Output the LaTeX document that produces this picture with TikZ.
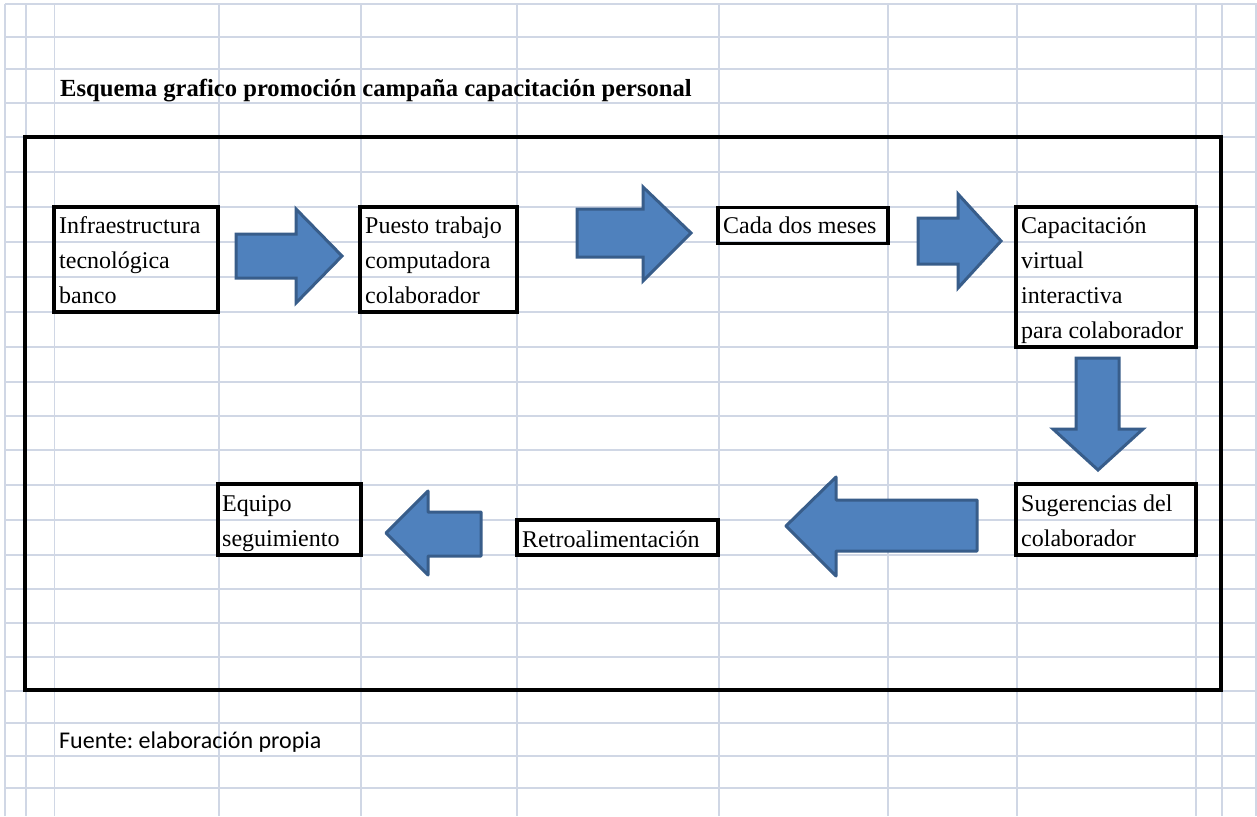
\documentclass[tikz,border=0pt]{standalone}
\usepackage{fontspec}
\setmainfont{Liberation Serif}
\newfontfamily\notefont{Carlito}
\frenchspacing
\begin{document}
\begin{tikzpicture}[x=1pt,y=-1pt,
  gridline/.style={draw=gridcol,line width=1.3pt},
  cell/.style={draw=black,line width=3.4pt,inner sep=0pt,outer sep=0pt,anchor=north west},
  celltext/.style={inner sep=0pt,anchor=base west,font=\fontsize{24}{35}\selectfont},
  blockarrow/.style={fill=arrowfill,draw=arrowline,line width=3pt,line join=miter},
  roundarrow/.style={blockarrow,line join=round}]
\definecolor{gridcol}{RGB}{208,215,229}
\definecolor{arrowfill}{RGB}{79,129,189}
\definecolor{arrowline}{RGB}{56,93,138}
\useasboundingbox (0,0) rectangle (1257,816);
\fill[white] (0,0) rectangle (1257,816);

% spreadsheet grid
\foreach \gx in {5,26,54.5,219,361,517,719,888,1017,1196,1222,1256}
  \draw[gridline] (\gx,4) -- (\gx,816);
\foreach \gy in {4,37,69,103,137,172,207,242,277,312,347,382,416,450,485,520,555,589,623,657,691,723,756,788}
  \draw[gridline] (5,\gy) -- (1257,\gy);

% title and source
\node[inner sep=0pt,anchor=base west,font=\fontsize{24.6}{29}\selectfont\bfseries] (title) at (60,96)
  {Esquema grafico promoción campaña capacitación personal};
\node[inner sep=0pt,anchor=base west,font=\notefont\fontsize{24}{29}\selectfont] (source) at (59,748)
  {Fuente: elaboración propia};

% outer frame
\node[cell,minimum width=1196pt,minimum height=553pt] (frame) at (25,137) {};

% step boxes
\node[cell,minimum width=164pt,minimum height=105pt] (infra) at (54,207) {};
\node[cell,minimum width=157pt,minimum height=105pt] (puesto) at (360,207) {};
\node[cell,minimum width=170pt,minimum height=36pt] (cada) at (718,207.5) {};
\node[cell,minimum width=180pt,minimum height=140pt] (capac) at (1016,207) {};
\node[cell,minimum width=180pt,minimum height=71pt] (suger) at (1016,484) {};
\node[cell,minimum width=201pt,minimum height=35pt] (retro) at (517,520) {};
\node[cell,minimum width=143pt,minimum height=71pt] (equipo) at (218,484) {};

% box texts
\node[celltext] (infraT) at (59,233) {\begin{tabular}[t]{@{}l@{}}Infraestructura\\tecnológica\\banco\end{tabular}};
\node[celltext] (puestoT) at (365,233) {\begin{tabular}[t]{@{}l@{}}Puesto trabajo\\computadora\\colaborador\end{tabular}};
\node[celltext] (cadaT) at (723,233) {Cada dos meses};
\node[celltext] (capacT) at (1021,233) {\begin{tabular}[t]{@{}l@{}}Capacitación\\virtual\\interactiva\\para colaborador\end{tabular}};
\node[celltext] (sugerT) at (1021,511) {\begin{tabular}[t]{@{}l@{}}Sugerencias del\\colaborador\end{tabular}};
\node[celltext] (retroT) at (522,547) {Retroalimentación};
\node[celltext] (equipoT) at (222,511) {\begin{tabular}[t]{@{}l@{}}Equipo\\seguimiento\end{tabular}};

% block arrows
\draw[blockarrow] (236,234) -- (296,234) -- (296,209) -- (342,256) -- (296,303) -- (296,278) -- (236,278) -- cycle;
\draw[blockarrow] (577,209) -- (643,209) -- (643,187) -- (691,233) -- (643,281) -- (643,257) -- (577,257) -- cycle;
\draw[blockarrow] (918,218) -- (958,218) -- (958,194) -- (1001,241) -- (958,288) -- (958,264) -- (918,264) -- cycle;
\draw[blockarrow] (1076,358) -- (1119,358) -- (1119,429) -- (1143,429) -- (1098,470) -- (1053,429) -- (1076,429) -- cycle;
\draw[roundarrow] (977,500) -- (836,500) -- (836,477) -- (786,526) -- (836,576) -- (836,551) -- (977,551) -- cycle;
\draw[roundarrow] (481,512) -- (428,512) -- (428,491) -- (386,533) -- (428,575) -- (428,556) -- (481,556) -- cycle;
\end{tikzpicture}
\end{document}
